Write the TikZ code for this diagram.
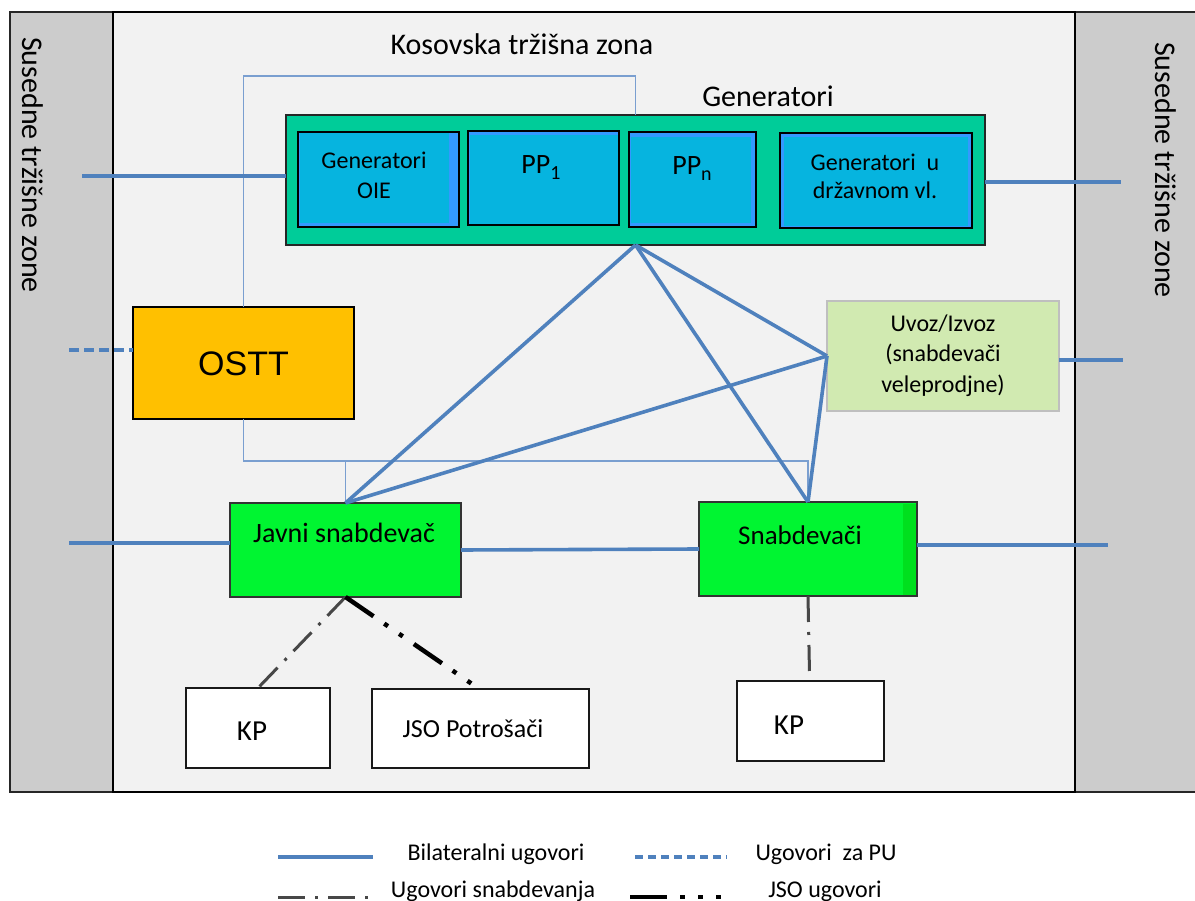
\documentclass[tikz,border=0pt]{standalone}
\usepackage{fontspec}
\setmainfont{Carlito}
\newfontfamily\arialfont{Liberation Sans}

\definecolor{bandgray}{HTML}{CCCCCC}
\definecolor{zonebg}{HTML}{F2F2F2}
\definecolor{gencol}{HTML}{00CC99}
\definecolor{unitcol}{HTML}{06B4DF}
\definecolor{unitedge}{HTML}{3399FF}
\definecolor{osttcol}{HTML}{FFC000}
\definecolor{supcol}{HTML}{00F531}
\definecolor{supedge}{HTML}{00E01E}
\definecolor{impcol}{HTML}{D1EAB1}
\definecolor{linkblue}{HTML}{4F81BD}
\definecolor{thinblue}{HTML}{7A9FD0}

\tikzset{
  box/.style={draw, rectangle, inner sep=0pt, outer sep=0pt, anchor=north west},
  unitbox/.style={box, fill=unitedge, draw=black, line width=2pt},
  greenbox/.style={box, fill=supcol, draw=black!80, line width=2pt},
  whitebox/.style={box, fill=white, draw=black!90, line width=2.5pt},
  bil/.style={draw=linkblue, line width=3.6pt},
  pu/.style={draw=linkblue, line width=3.6pt, dash pattern=on 10pt off 5pt},
  pulegend/.style={draw=linkblue, line width=3.6pt, dash pattern=on 8pt off 5pt},
  supline/.style={draw=black!72, line width=3pt, dash pattern=on 26pt off 10pt on 3pt off 10pt},
  jsoline/.style={draw=black, line width=4.5pt, dash pattern=on 34pt off 13pt on 4.5pt off 13.5pt on 4.5pt off 13.5pt},
  frameline/.style={draw=thinblue, line width=1.2pt},
  txt/.style={anchor=base, inner sep=0pt, font=\fontsize{24}{28}\selectfont},
  sidetxt/.style={rotate=-90, anchor=west, inner sep=0pt, font=\fontsize{30}{34}\selectfont}
}

\begin{document}
\begin{tikzpicture}[x=1pt, y=-1pt]
\useasboundingbox (0,0) rectangle (1195,901);

% neighbouring zones and the Kosovo zone
\node[box, fill=bandgray, draw=black!85, line width=2.5pt, minimum width=103pt, minimum height=780pt] (lband) at (10,12) {};
\node[box, fill=bandgray, draw=black!85, line width=2.5pt, minimum width=130pt, minimum height=780pt] (rband) at (1075,12) {};
\node[box, fill=zonebg, draw=black, line width=2.5pt, minimum width=962pt, minimum height=780pt] (zone) at (113,12) {};

\node[sidetxt] (lzonetxt) at (33,37) {Susedne tržišne zone};
\node[sidetxt] (rzonetxt) at (1166,42) {Susedne tržišne zone};

\node[txt, font=\fontsize{30}{34}\selectfont] (title) at (522,55) {Kosovska tržišna zona};
\node[txt, font=\fontsize{30}{34}\selectfont] (genlabel) at (768,107) {Generatori};

% generators
\node[box, fill=gencol, draw=black!85, line width=2pt, minimum width=699pt, minimum height=130pt] (gen) at (286,115) {};

\node[unitbox, minimum width=161pt, minimum height=95pt] (oie) at (298,132) {};
\fill[unitcol] (299.5,133.5) rectangle (449,223);
\node[unitbox, minimum width=151pt, minimum height=94pt] (pp1) at (468,131) {};
\fill[unitcol] (469.5,135) rectangle (617.5,224);
\node[unitbox, minimum width=127pt, minimum height=95pt] (ppn) at (629,132) {};
\fill[unitcol] (630.5,137) rectangle (751,223);
\node[unitbox, minimum width=192pt, minimum height=95pt] (gov) at (780,133) {};
\fill[unitcol] (784,137) rectangle (968,226.5);

\node[txt] (oieA) at (374,169) {Generatori};
\node[txt] (oieB) at (374,199) {OIE};
\node[txt, font=\fontsize{28}{30}\selectfont] (pp1txt) at (541,174) {PP\raisebox{-6pt}{\fontsize{20}{20}\selectfont 1}};
\node[txt, font=\fontsize{28}{30}\selectfont] (ppntxt) at (692,175) {PP\raisebox{-6pt}{\fontsize{20}{20}\selectfont n}};
\node[txt] (govA) at (875,171) {Generatori\ \ u};
\node[txt] (govB) at (875,199) {državnom vl.};

% market operator
\node[box, fill=osttcol, draw=black, line width=2.5pt, minimum width=221pt, minimum height=112pt] (ostt) at (133,307) {};
\node[txt, font=\arialfont\fontsize{34}{38}\selectfont] (ostttxt) at (243.5,376) {OSTT};

% import / export
\node[box, fill=impcol, draw=black!25, line width=2.5pt, minimum width=232pt, minimum height=110pt] (uvoz) at (827,301) {};
\node[txt] (uvozA) at (943,332) {Uvoz/Izvoz};
\node[txt] (uvozB) at (943,362) {(snabdevači};
\node[txt] (uvozC) at (943,392) {veleprodjne)};

% suppliers
\node[greenbox, minimum width=231pt, minimum height=94pt] (javni) at (230,503) {};
\node[txt, font=\fontsize{28}{30}\selectfont] (javnitxt) at (344,542) {Javni snabdevač};
\node[greenbox, minimum width=218pt, minimum height=94pt] (snab) at (699,502) {};
\fill[supedge] (903,503.5) rectangle (916,594.5);
\node[txt, font=\fontsize{27}{30}\selectfont] (snabtxt) at (800,544) {Snabdevači};

% customers
\node[whitebox, minimum width=144pt, minimum height=80pt] (kp1) at (186,688) {};
\node[txt, font=\fontsize{29}{32}\selectfont] (kp1txt) at (252,740) {KP};
\node[whitebox, minimum width=217pt, minimum height=79pt] (jso) at (372,689) {};
\node[txt, font=\fontsize{26}{30}\selectfont] (jsotxt) at (473,737) {JSO Potrošači};
\node[whitebox, minimum width=147pt, minimum height=80pt] (kp2) at (737,681) {};
\node[txt, font=\fontsize{29}{32}\selectfont] (kp2txt) at (789,734) {KP};

% thin frame from the operator
\coordinate (ftop) at (0,76);
\coordinate (fbot) at (0,461);
\draw[frameline] (ostt.north) |- (gen.north |- ftop) -- (gen.north);
\draw[frameline] (ostt.south) |- (snab.north |- fbot) -- (snab.north);
\draw[frameline] (javni.north |- fbot) -- (javni.north);

% bilateral contracts
\draw[bil] (gen.south) -- (javni.north);
\draw[bil] (gen.south) -- (snab.north);
\draw[bil] (gen.south) -- (uvoz.west);
\draw[bil] (uvoz.west) -- (javni.north);
\draw[bil] (uvoz.west) -- (snab.north);
\draw[bil] (javni.east) -- (snab.west);

\coordinate (lgen) at (82,176);
\draw[bil] (lgen) -- (lgen -| gen.west);
\coordinate (rgen) at (1121,182);
\draw[bil] (rgen -| gen.east) -- (rgen);
\coordinate (ljav) at (69,543);
\draw[bil] (ljav) -- (ljav -| javni.west);
\coordinate (rsnab) at (1108,545);
\draw[bil] (rsnab -| snab.east) -- (rsnab);
\coordinate (ruvoz) at (1123,360);
\draw[bil] (ruvoz -| uvoz.east) -- (ruvoz);

% balancing contract
\coordinate (lostt) at (69,350);
\draw[pu] (lostt) -- (lostt -| ostt.west);

% supply and public-service contracts
\draw[supline] (javni.south) -- (kp1.north);
\draw[jsoline] (javni.south) -- ([xshift=-7pt, yshift=4pt]jso.north);
\draw[supline] (snab.south) -- ([xshift=-1pt, yshift=8pt]kp2.north);

% legend
\coordinate (l1a) at (278,857); \coordinate (l1b) at (373,857);
\coordinate (l2a) at (635,857); \coordinate (l2b) at (727,857);
\coordinate (l3a) at (278,897); \coordinate (l3b) at (368,897);
\coordinate (l4a) at (630,897); \coordinate (l4b) at (721,897);
\draw[bil] (l1a) -- (l1b);
\draw[pulegend] (l2a) -- (l2b);
\draw[supline, dash pattern=on 27pt off 10pt on 3pt off 10pt] (l3a) -- (l3b);
\draw[jsoline, dash pattern=on 37pt off 13pt on 4.5pt off 13.5pt on 4.5pt off 13.5pt] (l4a) -- (l4b);
\node[txt] (leg1) at (496,860) {Bilateralni ugovori};
\node[txt] (leg2) at (826,860) {Ugovori\ \ za PU};
\node[txt] (leg3) at (493,897) {Ugovori snabdevanja};
\node[txt] (leg4) at (825,897) {JSO ugovori};
\end{tikzpicture}
\end{document}
